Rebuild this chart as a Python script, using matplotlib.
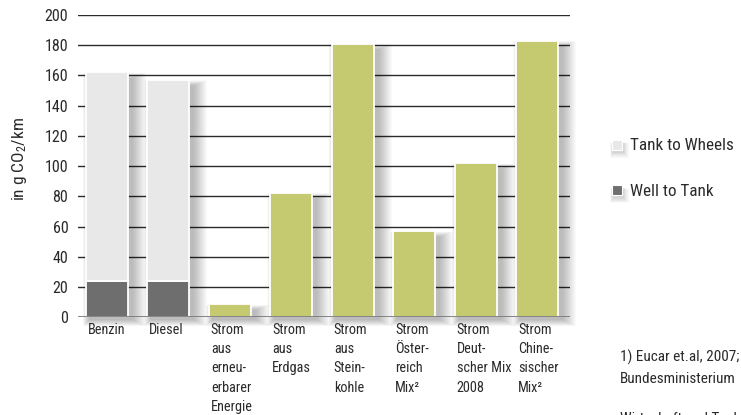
import matplotlib
matplotlib.use("Agg")
import matplotlib.pyplot as plt
from matplotlib.patches import Rectangle
from matplotlib import font_manager

# narrowest sans face that is installed
names = {f.name for f in font_manager.fontManager.ttflist}
face = "DejaVu Sans"
for cand in ["Roboto Condensed", "Liberation Sans Narrow", "DejaVu Sans Condensed",
             "Open Sans Condensed", "Roboto", "Liberation Sans"]:
    if cand in names:
        face = cand
        break
plt.rcParams["font.family"] = [face, "DejaVu Sans"]
plt.rcParams["font.stretch"] = "condensed"
plt.rcParams["mathtext.fontset"] = "custom"
plt.rcParams["mathtext.rm"] = face
plt.rcParams["mathtext.it"] = face

categories = ["Benzin", "Diesel", "Strom\naus\nerneu-\nerbarer\nEnergie",
              "Strom\naus\nErdgas", "Strom\naus\nStein-\nkohle",
              "Strom\nÖster-\nreich\nMix²", "Strom\nDeut-\nscher Mix\n2008",
              "Strom\nChine-\nsischer\nMix²"]
well_to_tank = [24, 24, 0, 0, 0, 0, 0, 0]
tank_to_wheels = [138, 133, 0, 0, 0, 0, 0, 0]
strom = [0, 0, 8.5, 82.5, 181, 57, 102, 183]
yticks = [0, 20, 40, 60, 80, 100, 120, 140, 160, 180, 200]

c_light = "#e8e8e8"
c_dark = "#6e6e6e"
c_green = "#c5c970"
c_text = "#2a2a2a"

fig = plt.figure(figsize=(7.41, 4.15), dpi=100)
ax = fig.add_axes([78 / 741, (415 - 317.3) / 415, 492 / 741, 302.3 / 415])
ax.set_xlim(-0.47, 7.53)
ax.set_ylim(0, 200)

x = list(range(len(categories)))
w = 0.68
totals = [a + b + c for a, b, c in zip(well_to_tank, tank_to_wheels, strom)]

# one pixel in data units
px = 8.0 / 492
py = 200 / 302.3

# gridlines
for t in yticks[1:]:
    ax.axhline(t, color="#2b2b2b", lw=1.0, zorder=1)
ax.axhline(0, color="#7a7a7a", lw=2.0, zorder=5)

# soft drop shadow, growing mostly to the right and down
for i, t in zip(x, totals):
    left0, right0 = i - w / 2 + 4 * px, i + w / 2 + 4 * px
    top0, bot0 = t - 6 * py, -2 * py
    for k in range(1, 15):
        l = left0 - 0.5 * k * px
        r = right0 + 1.0 * k * px
        tp = top0 + 0.4 * k * py
        b = bot0 - 0.5 * k * py
        ax.add_patch(Rectangle((l, b), r - l, tp - b, facecolor="black",
                               alpha=0.02, lw=0, zorder=2, clip_on=False))

edge = dict(edgecolor="white", linewidth=1.3, zorder=3)
ax.bar(x, well_to_tank, width=w, color=c_dark, **edge)
ax.bar(x, tank_to_wheels, width=w, bottom=well_to_tank, color=c_light, **edge)
ax.bar(x, strom, width=w, color=c_green, **edge)

for s in ax.spines.values():
    s.set_visible(False)
ax.set_xticks([])
ax.set_yticks(yticks)
ax.set_yticklabels([str(t) for t in yticks], fontsize=11.5, color=c_text)
ax.tick_params(axis="y", length=0, pad=7)
ax.set_ylabel("in g CO$_\\mathrm{2}$/km", fontsize=12.5, color=c_text)
ax.yaxis.set_label_coords(-0.1, 0.525)

# category labels, left aligned under each bar
for i, lab in zip(x, categories):
    ax.text(i - w / 2 + 0.03, -4.0, lab, ha="left", va="top", fontsize=10.3,
            color=c_text, linespacing=1.46, clip_on=False)

# legend
def legend_item(ycen, color, label):
    sx, sy = 612 / 741, (415 - ycen - 5) / 415
    for k in range(1, 8):
        fig.patches.append(Rectangle((sx + (1 - 0.4 * k) / 741, sy - (2 + 0.8 * k) / 415),
                                     (10 + 1.2 * k) / 741, (10 + 0.6 * k) / 415,
                                     transform=fig.transFigure, color="black",
                                     alpha=0.022, lw=0))
    fig.patches.append(Rectangle((sx, sy), 10 / 741, 10 / 415,
                                 transform=fig.transFigure, facecolor=color,
                                 edgecolor="white", lw=0.8))
    fig.text(630 / 741, (415 - ycen - 1) / 415, label, ha="left", va="center",
             fontsize=12.3, color=c_text)

legend_item(145, c_light, "Tank to Wheels")
legend_item(190.5, c_dark, "Well to Tank")

# source note; the last line runs off the bottom edge
for ypix, line in [(357, "1) Eucar et.al, 2007;"), (379, "Bundesministerium"),
                   (419, "Wirtschaft und Technologie")]:
    fig.text(620 / 741, (415 - ypix) / 415, line, ha="left", va="center",
             fontsize=11, color=c_text)

fig.savefig("out.png", dpi=100)
